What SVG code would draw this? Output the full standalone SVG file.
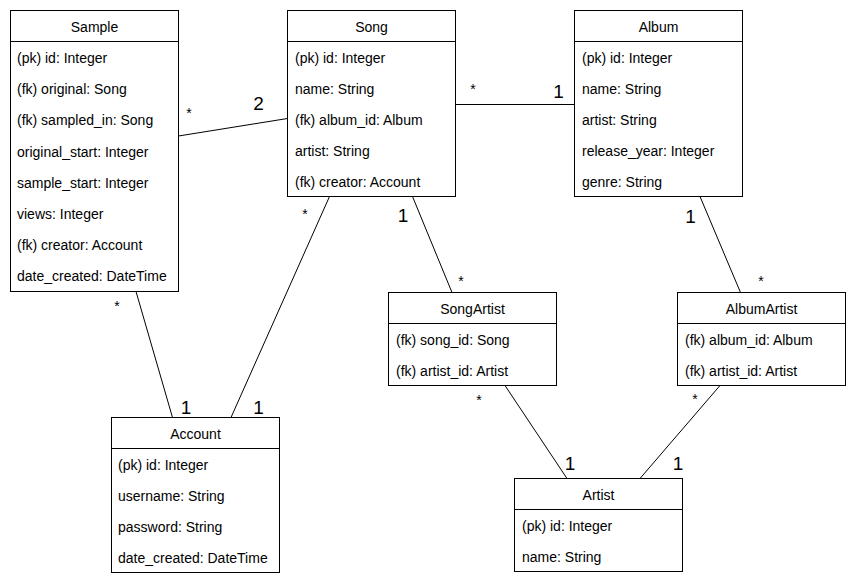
<svg xmlns="http://www.w3.org/2000/svg" width="856" height="587" viewBox="0 0 856 587">
<style>
.box{fill:#fff;stroke:#000;stroke-width:1}
.sep{stroke:#000;stroke-width:1}
text{font-family:"Liberation Sans",Arial,sans-serif;fill:#000}
.t{font-size:14px;text-anchor:middle;dominant-baseline:central}
.r{font-size:14px;dominant-baseline:central}
.m{font-size:14px;text-anchor:middle}
.n{font-size:19px;text-anchor:middle}
.c{stroke:#000;stroke-width:1;fill:none}
</style>
<rect width="856" height="587" fill="#fff"/>
<g id="connectors">
<line class="c" x1="178.5" y1="136" x2="287.5" y2="118.5"/>
<line class="c" x1="455.5" y1="104.5" x2="574.5" y2="104.5"/>
<line class="c" x1="329.5" y1="196.5" x2="231" y2="417.5"/>
<line class="c" x1="412.5" y1="196.5" x2="452" y2="292.5"/>
<line class="c" x1="136" y1="291.5" x2="172.5" y2="417.5"/>
<line class="c" x1="700" y1="196.5" x2="740.5" y2="292.5"/>
<line class="c" x1="505" y1="385.5" x2="567" y2="478.5"/>
<line class="c" x1="720" y1="385.5" x2="640" y2="478.5"/>
<text class="m" x="189" y="118">*</text>
<text class="n" x="258.5" y="110">2</text>
<text class="m" x="473" y="94">*</text>
<text class="n" x="558.5" y="97.5">1</text>
<text class="m" x="305" y="218.5">*</text>
<text class="n" x="258.5" y="413.5">1</text>
<text class="n" x="403" y="221.5">1</text>
<text class="m" x="461" y="285.5">*</text>
<text class="m" x="117" y="310.5">*</text>
<text class="n" x="186" y="413.5">1</text>
<text class="n" x="690.5" y="222.5">1</text>
<text class="m" x="761" y="285.5">*</text>
<text class="m" x="479" y="404.5">*</text>
<text class="n" x="570" y="469.5">1</text>
<text class="m" x="695" y="403.5">*</text>
<text class="n" x="678" y="469.5">1</text>
</g>
<g id="Sample">
<rect class="box" x="10.5" y="10.5" width="168" height="281"/>
<line class="sep" x1="10.5" y1="41.5" x2="178.5" y2="41.5"/>
<text class="t" x="94.5" y="26.5">Sample</text>
<text class="r" x="17" y="58">(pk) id: Integer</text>
<text class="r" x="17" y="89.2">(fk) original: Song</text>
<text class="r" x="17" y="120.4">(fk) sampled_in: Song</text>
<text class="r" x="17" y="151.6">original_start: Integer</text>
<text class="r" x="17" y="182.8">sample_start: Integer</text>
<text class="r" x="17" y="214">views: Integer</text>
<text class="r" x="17" y="245.2">(fk) creator: Account</text>
<text class="r" x="17" y="276.4">date_created: DateTime</text>
</g>
<g id="Song">
<rect class="box" x="287.5" y="10.5" width="168" height="186"/>
<line class="sep" x1="287.5" y1="41.5" x2="455.5" y2="41.5"/>
<text class="t" x="371.5" y="26.5">Song</text>
<text class="r" x="295" y="58">(pk) id: Integer</text>
<text class="r" x="295" y="89">name: String</text>
<text class="r" x="295" y="120">(fk) album_id: Album</text>
<text class="r" x="295" y="151">artist: String</text>
<text class="r" x="295" y="182">(fk) creator: Account</text>
</g>
<g id="Album">
<rect class="box" x="574.5" y="10.5" width="168" height="186"/>
<line class="sep" x1="574.5" y1="41.5" x2="742.5" y2="41.5"/>
<text class="t" x="658.5" y="26.5">Album</text>
<text class="r" x="582" y="58">(pk) id: Integer</text>
<text class="r" x="582" y="89">name: String</text>
<text class="r" x="582" y="120">artist: String</text>
<text class="r" x="582" y="151">release_year: Integer</text>
<text class="r" x="582" y="182">genre: String</text>
</g>
<g id="SongArtist">
<rect class="box" x="388.5" y="292.5" width="168" height="93"/>
<line class="sep" x1="388.5" y1="323.5" x2="556.5" y2="323.5"/>
<text class="t" x="472.5" y="308.5">SongArtist</text>
<text class="r" x="396" y="340">(fk) song_id: Song</text>
<text class="r" x="396" y="371">(fk) artist_id: Artist</text>
</g>
<g id="AlbumArtist">
<rect class="box" x="677.5" y="292.5" width="168" height="93"/>
<line class="sep" x1="677.5" y1="323.5" x2="845.5" y2="323.5"/>
<text class="t" x="761.5" y="308.5">AlbumArtist</text>
<text class="r" x="685" y="340">(fk) album_id: Album</text>
<text class="r" x="685" y="371">(fk) artist_id: Artist</text>
</g>
<g id="Account">
<rect class="box" x="111.5" y="417.5" width="168" height="155"/>
<line class="sep" x1="111.5" y1="448.5" x2="279.5" y2="448.5"/>
<text class="t" x="195.5" y="433.5">Account</text>
<text class="r" x="118" y="465">(pk) id: Integer</text>
<text class="r" x="118" y="496">username: String</text>
<text class="r" x="118" y="527">password: String</text>
<text class="r" x="118" y="558">date_created: DateTime</text>
</g>
<g id="Artist">
<rect class="box" x="514.5" y="478.5" width="168" height="93"/>
<line class="sep" x1="514.5" y1="509.5" x2="682.5" y2="509.5"/>
<text class="t" x="598.5" y="494.5">Artist</text>
<text class="r" x="522" y="526">(pk) id: Integer</text>
<text class="r" x="522" y="557">name: String</text>
</g>
</svg>
